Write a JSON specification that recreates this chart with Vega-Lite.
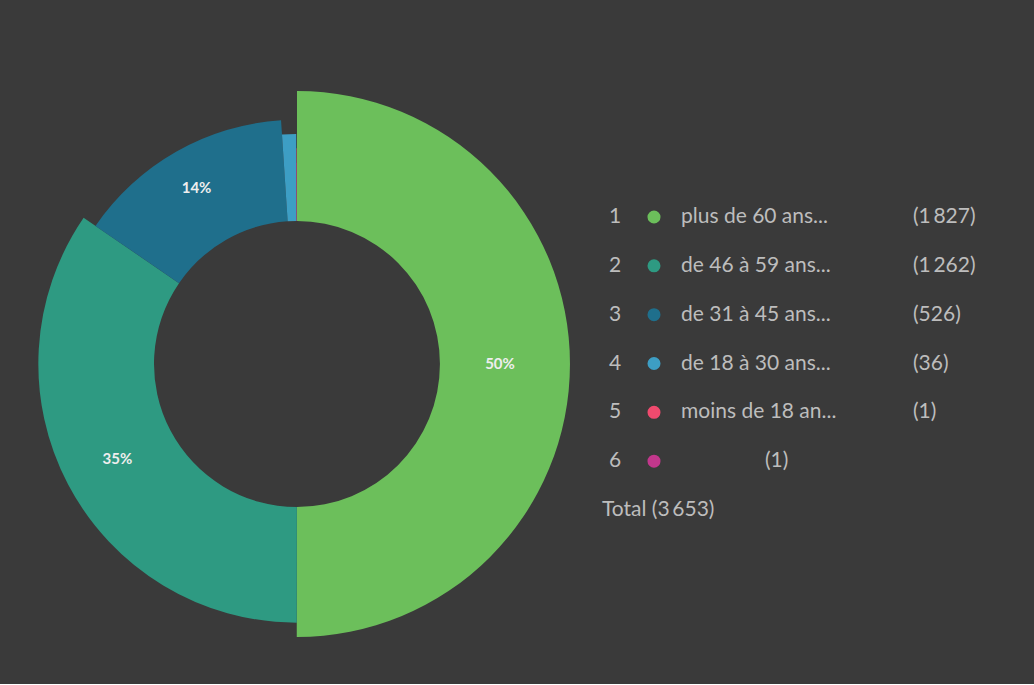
{
  "$schema": "https://vega.github.io/schema/vega-lite/v6.json",
  "background": "#3a3a3a",
  "padding": {"top": 44, "left": 0, "right": 0, "bottom": 0},
  "spacing": 0,
  "config": {"view": {"stroke": null}, "font": "Lato", "text": {"font": "Lato"}},
  "data": {
    "values": [
      {"rang": 1, "cat": "plus de 60 ans...", "n": 1827, "pct": "50%"},
      {"rang": 2, "cat": "de 46 à 59 ans...", "n": 1262, "pct": "35%"},
      {"rang": 3, "cat": "de 31 à 45 ans...", "n": 526, "pct": "14%"},
      {"rang": 4, "cat": "de 18 à 30 ans...", "n": 36, "pct": ""},
      {"rang": 5, "cat": "moins de 18 an...", "n": 1, "pct": ""},
      {"rang": 6, "cat": "", "n": 1, "pct": ""}
    ]
  },
  "hconcat": [
    {
      "width": 594,
      "height": 640,
      "transform": [
        {"window": [{"op": "sum", "field": "n", "as": "c1"}], "sort": [{"field": "rang", "order": "ascending"}], "frame": [null, 0]},
        {"calculate": "datum.c1 - datum.n", "as": "c0"},
        {"calculate": "(datum.c0 + datum.c1) / 2", "as": "cm"}
      ],
      "layer": [
        {
          "mark": {"type": "arc", "radius2": 143},
          "encoding": {
            "theta": {"field": "c0", "type": "quantitative", "scale": {"domain": [0, 3653]}},
            "theta2": {"field": "c1"},
            "radius": {"field": "rang", "type": "quantitative", "scale": {"type": "linear", "zero": false, "domain": [1, 4], "range": [273, 230]}},
            "color": {"field": "rang", "type": "nominal", "scale": {"domain": [1, 2, 3, 4, 5, 6], "range": ["#6cbf5b", "#2e9a82", "#1f6f8c", "#3d9ec4", "#f04a6e", "#c2378c"]}, "legend": null}
          }
        },
        {
          "mark": {"type": "text", "fontWeight": "bold", "fontSize": 15, "color": "#eeeeee", "align": "center", "baseline": "middle"},
          "encoding": {
            "theta": {"field": "cm", "type": "quantitative"},
            "radius": {"value": 203},
            "text": {"field": "pct", "type": "nominal"}
          }
        }
      ]
    },
    {
      "width": 440,
      "height": 640,
      "layer": [
        {
          "mark": {"type": "text", "align": "center", "baseline": "middle", "fontSize": 21, "color": "#bdbdbd"},
          "encoding": {
            "x": {"datum": 21, "type": "quantitative", "scale": {"domain": [0, 440], "range": [0, 440], "nice": false, "zero": false}, "axis": null},
            "y": {"field": "rang", "type": "quantitative", "scale": {"domain": [1, 7], "range": [173, 466], "nice": false, "zero": false}, "axis": null},
            "text": {"field": "rang", "type": "quantitative"}
          }
        },
        {
          "mark": {"type": "point", "filled": true, "size": 170, "opacity": 1},
          "encoding": {
            "x": {"datum": 60, "type": "quantitative"},
            "y": {"field": "rang", "type": "quantitative"},
            "color": {"field": "rang", "type": "nominal", "scale": {"domain": [1, 2, 3, 4, 5, 6], "range": ["#7fcf55", "#2a9d78", "#1f7a9a", "#3aa6cf", "#f04a6e", "#c2378c"]}, "legend": null}
          }
        },
        {
          "mark": {"type": "text", "align": "left", "baseline": "middle", "fontSize": 21, "color": "#bdbdbd"},
          "encoding": {
            "x": {"datum": 87, "type": "quantitative"},
            "y": {"field": "rang", "type": "quantitative"},
            "text": {"field": "cat", "type": "nominal"}
          }
        },
        {
          "transform": [
            {"filter": "datum.rang < 6"},
            {"calculate": "'(' + replace(format(datum.n, ','), ',', '\u2009') + ')'", "as": "cstr"}
          ],
          "mark": {"type": "text", "align": "left", "baseline": "middle", "fontSize": 21, "color": "#bdbdbd"},
          "encoding": {
            "x": {"datum": 319, "type": "quantitative"},
            "y": {"field": "rang", "type": "quantitative"},
            "text": {"field": "cstr", "type": "nominal"}
          }
        },
        {
          "transform": [
            {"filter": "datum.rang == 6"},
            {"calculate": "'(' + format(datum.n, ',') + ')'", "as": "cstr"}
          ],
          "mark": {"type": "text", "align": "left", "baseline": "middle", "fontSize": 21, "color": "#bdbdbd"},
          "encoding": {
            "x": {"datum": 171, "type": "quantitative"},
            "y": {"field": "rang", "type": "quantitative"},
            "text": {"field": "cstr", "type": "nominal"}
          }
        },
        {
          "transform": [
            {"joinaggregate": [{"op": "sum", "field": "n", "as": "total"}]},
            {"filter": "datum.rang == 1"},
            {"calculate": "'Total (' + replace(format(datum.total, ','), ',', '\u2009') + ')'", "as": "tstr"}
          ],
          "mark": {"type": "text", "align": "left", "baseline": "middle", "fontSize": 21, "color": "#bdbdbd"},
          "encoding": {
            "x": {"datum": 8, "type": "quantitative"},
            "y": {"datum": 7, "type": "quantitative"},
            "text": {"field": "tstr", "type": "nominal"}
          }
        }
      ]
    }
  ]
}
